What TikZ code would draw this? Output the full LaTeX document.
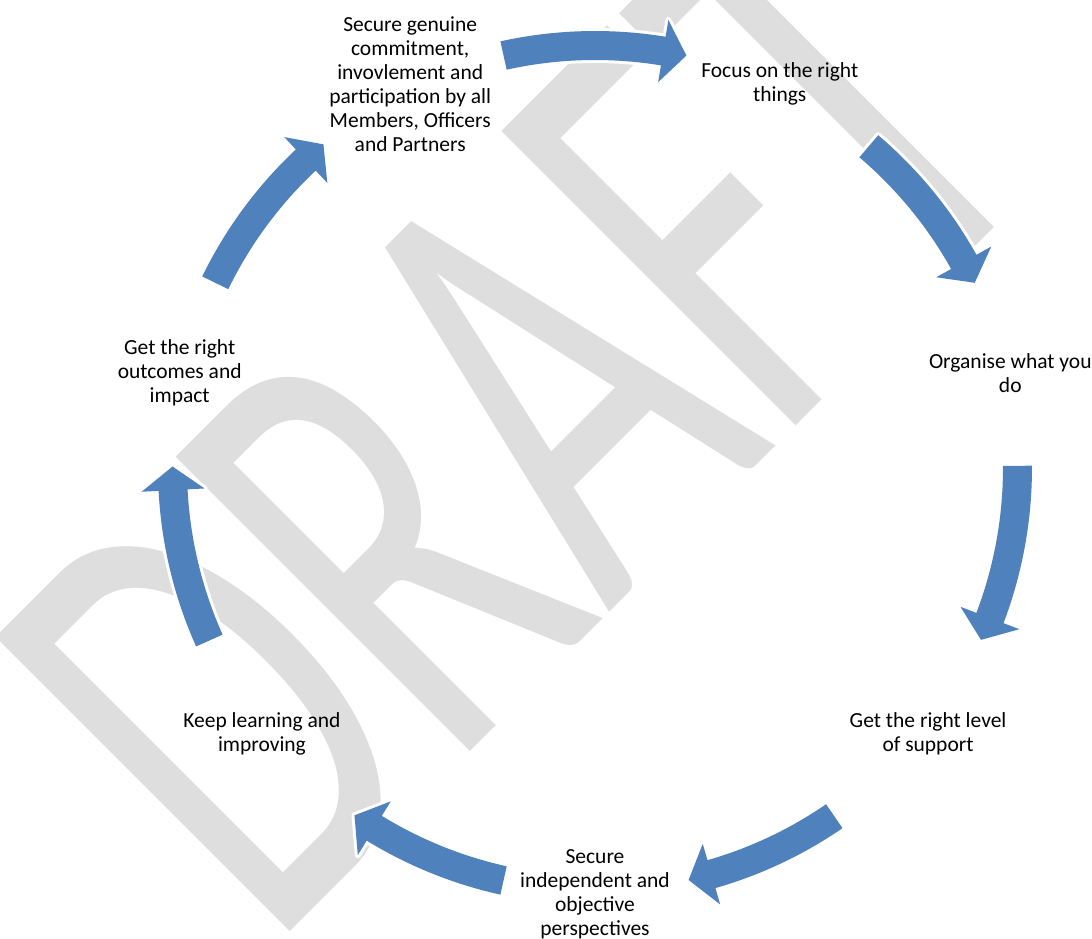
\documentclass[tikz,border=0pt]{standalone}
\usepackage{fontspec}
\setmainfont{Carlito}
\usetikzlibrary{positioning}
\definecolor{cycleblue}{RGB}{79,129,189}
\definecolor{wmgray}{RGB}{222,222,222}

\begin{document}
\begin{tikzpicture}[
		x=1pt, y=1pt,
		stage/.style={align=center, inner sep=0, font=\fontsize{21.5}{24}\selectfont},
		ringarrow/.style={fill=cycleblue, preaction={draw=white, line width=6, line join=round}},
		watermark/.style={text=wmgray, inner sep=0, font=\fontsize{412}{412}\selectfont}
	]

	\clip (-595,-470) rectangle (497,468);

	% DRAFT watermark behind everything
	\begin{scope}[shift={(66.7,-92.3)}, rotate=45, yscale=1.575]
		\node[watermark, anchor=base, transform shape] (draft) at (0,0) {DRAFT};
	\end{scope}

	% the seven stages round the ring
	\node[stage] (commit) at (115.71:426) {Secure genuine\\commitment,\\invovlement and\\participation by all\\Members, Officers\\and Partners};
	\node[stage] (focus) at (64.29:426) {Focus on the right\\things};
	\node[stage] (organise) at (12.86:426) {Organise what you\\do};
	\node[stage] (support) at (-38.57:426) {Get the right level\\of support};
	\node[stage] (independent) at (-90:426) {Secure\\independent and\\objective\\perspectives};
	\node[stage] (learning) at (-141.43:426) {Keep learning and\\improving};
	\node[stage] (outcomes) at (167.14:426) {Get the right\\outcomes and\\impact};

	% curved block arrows, tail angle / tip angle
	\foreach \a/\b in {102.5/77.5, 49.6/26.0, 0.3/-24.0, -55.5/-77.2, -102.5/-124.7, 204.1/179.8, 154.0/130.0}
		\fill[ringarrow] (\a:437) arc[start angle=\a, end angle=\b+3.2, radius=437]
			-- (\b+3.2:454) -- (\b:422.5) -- (\b+3.2:391) -- (\b+3.2:408)
			arc[start angle=\b+3.2, end angle=\a, radius=408] -- cycle;

\end{tikzpicture}
\end{document}
